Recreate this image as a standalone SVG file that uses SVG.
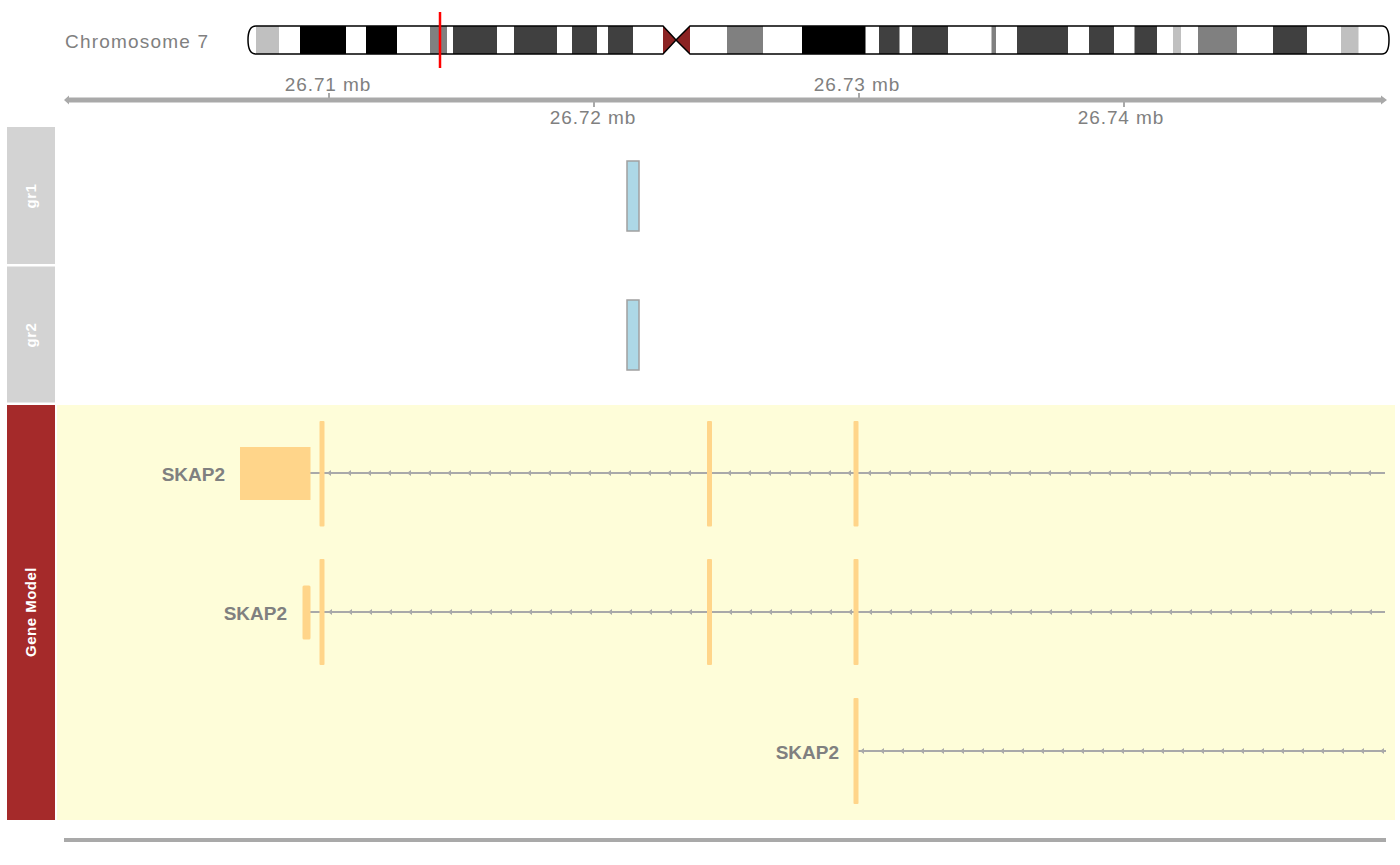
<svg xmlns="http://www.w3.org/2000/svg" width="1400" height="865" viewBox="0 0 1400 865">
<style>
  .lbl{font-family:"Liberation Sans",Arial,sans-serif;fill:#808080;font-size:19px;letter-spacing:0.9px}
  .chr{letter-spacing:1.2px}
  .ttl{font-family:"Liberation Sans",Arial,sans-serif;fill:#ffffff;font-size:15px;font-weight:bold;letter-spacing:0.5px}
  .gene{font-family:"Liberation Sans",Arial,sans-serif;fill:#808080;font-size:19px;font-weight:bold}
  .exon{fill:#FFD58A}
  .intron{stroke:#A9A9A9;stroke-width:2;fill:none}
  .arr{fill:#A9A9A9}
  .d{fill:#404040}.b{fill:#000000}.g{fill:#808080}.l{fill:#C0C0C0}
</style>
<defs>
  <clipPath id="chrclip">
    <path d="M256,26 H663 L676,40 L690,26 H1382 Q1389,26 1389,40 Q1389,54 1382,54 H690 L676,40 L663,54 H256 Q248,54 248,40 Q248,26 256,26 Z"/>
  </clipPath>
</defs>
<rect width="1400" height="865" fill="#ffffff"/>

<g id="ideogram">
  <text class="lbl chr" x="65" y="48">Chromosome 7</text>
  <g clip-path="url(#chrclip)">
    <rect x="248" y="26" width="1141" height="28" fill="#ffffff"/>
    <rect class="l" x="256" y="26" width="23" height="28"/>
    <rect class="b" x="300" y="26" width="46" height="28"/>
    <rect class="b" x="366" y="26" width="31" height="28"/>
    <rect class="g" x="430" y="26" width="17" height="28"/>
    <rect class="d" x="453" y="26" width="44" height="28"/>
    <rect class="d" x="514" y="26" width="43" height="28"/>
    <rect class="d" x="572" y="26" width="25" height="28"/>
    <rect class="d" x="608" y="26" width="25" height="28"/>
    <rect class="g" x="727" y="26" width="36" height="28"/>
    <rect class="b" x="802" y="26" width="63.5" height="28"/>
    <rect class="d" x="879" y="26" width="20.5" height="28"/>
    <rect class="d" x="912" y="26" width="36" height="28"/>
    <rect class="g" x="991.5" y="26" width="4.5" height="28"/>
    <rect class="d" x="1017" y="26" width="51" height="28"/>
    <rect class="d" x="1089" y="26" width="25" height="28"/>
    <rect class="d" x="1134.5" y="26" width="22.5" height="28"/>
    <rect class="l" x="1173" y="26" width="8" height="28"/>
    <rect class="g" x="1198" y="26" width="39" height="28"/>
    <rect class="d" x="1273" y="26" width="34" height="28"/>
    <rect class="l" x="1341" y="26" width="17.5" height="28"/>
  </g>
  <path d="M663,26 L676,40 L663,54 Z M690,26 L676,40 L690,54 Z" fill="#8B2323"/>
  <path d="M256,26 H663 L676,40 L690,26 H1382 Q1389,26 1389,40 Q1389,54 1382,54 H690 L676,40 L663,54 H256 Q248,54 248,40 Q248,26 256,26 Z" fill="none" stroke="#000000" stroke-width="1.5"/>
  <line x1="440" y1="12" x2="440" y2="68" stroke="#FF0000" stroke-width="2.5"/>
</g>

<g id="axis">
  <line x1="68" y1="100" x2="1382" y2="100" stroke="#A9A9A9" stroke-width="5"/>
  <path d="M64,100 L69,95.5 L69,104.5 Z M1387,100 L1381,95.5 L1381,104.5 Z" fill="#A9A9A9"/>
  <g stroke="#A9A9A9" stroke-width="2">
    <line x1="329" y1="93" x2="329" y2="100"/>
    <line x1="594" y1="100" x2="594" y2="107"/>
    <line x1="859" y1="93" x2="859" y2="100"/>
    <line x1="1124" y1="100" x2="1124" y2="107"/>
  </g>
  <text class="lbl" x="328" y="91" text-anchor="middle">26.71 mb</text>
  <text class="lbl" x="593" y="124" text-anchor="middle">26.72 mb</text>
  <text class="lbl" x="857" y="91" text-anchor="middle">26.73 mb</text>
  <text class="lbl" x="1121" y="124" text-anchor="middle">26.74 mb</text>
</g>

<g id="track-gr1">
  <rect x="7" y="127" width="48" height="137" fill="#D3D3D3"/>
  <text class="ttl" transform="translate(36,196) rotate(-90)" text-anchor="middle">gr1</text>
  <rect x="627" y="161" width="12" height="70" fill="#ADD8E6" stroke="#A0A0A0" stroke-width="1.5"/>
</g>

<g id="track-gr2">
  <rect x="7" y="266.5" width="48" height="136" fill="#D3D3D3"/>
  <text class="ttl" transform="translate(36,335) rotate(-90)" text-anchor="middle">gr2</text>
  <rect x="627" y="300" width="12" height="70" fill="#ADD8E6" stroke="#A0A0A0" stroke-width="1.5"/>
</g>

<g id="track-genemodel">
  <rect x="7" y="405" width="48" height="415" fill="#A52A2A"/>
  <rect x="57" y="405" width="1338" height="415" fill="#FEFDD9"/>
  <text class="ttl" transform="translate(36,612) rotate(-90)" text-anchor="middle">Gene Model</text>
</g>

<g id="connectors">
  <line class="intron" x1="310" y1="473" x2="1385" y2="473"/>
  <line class="intron" x1="310" y1="612" x2="1385" y2="612"/>
  <line class="intron" x1="858" y1="751" x2="1386" y2="751"/>
  <path class="arr" d="M327 473l4-3v6zm20 0l4-3v6zm20 0l4-3v6zm20 0l4-3v6zm20 0l4-3v6zm20 0l4-3v6zm20 0l4-3v6zm20 0l4-3v6zm20 0l4-3v6zm20 0l4-3v6zm20 0l4-3v6zm20 0l4-3v6zm20 0l4-3v6zm20 0l4-3v6zm20 0l4-3v6zm20 0l4-3v6zm20 0l4-3v6zm20 0l4-3v6zm20 0l4-3v6zm20 0l4-3v6zm20 0l4-3v6zm20 0l4-3v6zm20 0l4-3v6zm20 0l4-3v6zm20 0l4-3v6zm20 0l4-3v6zm20 0l4-3v6zm20 0l4-3v6zm20 0l4-3v6zm20 0l4-3v6zm20 0l4-3v6zm20 0l4-3v6zm20 0l4-3v6zm20 0l4-3v6zm20 0l4-3v6zm20 0l4-3v6zm20 0l4-3v6zm20 0l4-3v6zm20 0l4-3v6zm20 0l4-3v6zm20 0l4-3v6zm20 0l4-3v6zm20 0l4-3v6zm20 0l4-3v6zm20 0l4-3v6zm20 0l4-3v6zm20 0l4-3v6zm20 0l4-3v6zm20 0l4-3v6zm20 0l4-3v6zm20 0l4-3v6zm20 0l4-3v6zm20 0l4-3v6z"/>
  <path class="arr" d="M328 612l4-3v6zm20 0l4-3v6zm20 0l4-3v6zm20 0l4-3v6zm20 0l4-3v6zm20 0l4-3v6zm20 0l4-3v6zm20 0l4-3v6zm20 0l4-3v6zm20 0l4-3v6zm20 0l4-3v6zm20 0l4-3v6zm20 0l4-3v6zm20 0l4-3v6zm20 0l4-3v6zm20 0l4-3v6zm20 0l4-3v6zm20 0l4-3v6zm20 0l4-3v6zm20 0l4-3v6zm20 0l4-3v6zm20 0l4-3v6zm20 0l4-3v6zm20 0l4-3v6zm20 0l4-3v6zm20 0l4-3v6zm20 0l4-3v6zm20 0l4-3v6zm20 0l4-3v6zm20 0l4-3v6zm20 0l4-3v6zm20 0l4-3v6zm20 0l4-3v6zm20 0l4-3v6zm20 0l4-3v6zm20 0l4-3v6zm20 0l4-3v6zm20 0l4-3v6zm20 0l4-3v6zm20 0l4-3v6zm20 0l4-3v6zm20 0l4-3v6zm20 0l4-3v6zm20 0l4-3v6zm20 0l4-3v6zm20 0l4-3v6zm20 0l4-3v6zm20 0l4-3v6zm20 0l4-3v6zm20 0l4-3v6zm20 0l4-3v6zm20 0l4-3v6zm20 0l4-3v6z"/>
  <path class="arr" d="M860 751l4-3v6zm20 0l4-3v6zm20 0l4-3v6zm20 0l4-3v6zm20 0l4-3v6zm20 0l4-3v6zm20 0l4-3v6zm20 0l4-3v6zm20 0l4-3v6zm20 0l4-3v6zm20 0l4-3v6zm20 0l4-3v6zm20 0l4-3v6zm20 0l4-3v6zm20 0l4-3v6zm20 0l4-3v6zm20 0l4-3v6zm20 0l4-3v6zm20 0l4-3v6zm20 0l4-3v6zm20 0l4-3v6zm20 0l4-3v6zm20 0l4-3v6zm20 0l4-3v6zm20 0l4-3v6zm20 0l4-3v6zm20 0l4-3v6z"/>
</g>

<g id="transcript-1">
  <text class="gene" x="225" y="481" text-anchor="end">SKAP2</text>
  <rect class="exon" x="240" y="447" width="70.5" height="53"/>
  <rect class="exon" x="319.5" y="421" width="5" height="105.5" rx="1"/>
  <rect class="exon" x="707" y="421" width="5" height="105.5" rx="1"/>
  <rect class="exon" x="853.5" y="421" width="5" height="105.5" rx="1"/>
</g>

<g id="transcript-2">
  <text class="gene" x="287" y="620" text-anchor="end">SKAP2</text>
  <rect class="exon" x="302.5" y="585.5" width="8" height="54" rx="1.5"/>
  <rect class="exon" x="319.5" y="559" width="5" height="106" rx="1"/>
  <rect class="exon" x="707" y="559" width="5" height="106" rx="1"/>
  <rect class="exon" x="853.5" y="559" width="5" height="106" rx="1"/>
</g>

<g id="transcript-3">
  <text class="gene" x="839" y="759" text-anchor="end">SKAP2</text>
  <rect class="exon" x="853.5" y="698" width="5" height="106" rx="1"/>
</g>

<g id="bottom-axis">
  <line x1="64" y1="840" x2="1386" y2="840" stroke="#A9A9A9" stroke-width="4"/>
</g>
</svg>
